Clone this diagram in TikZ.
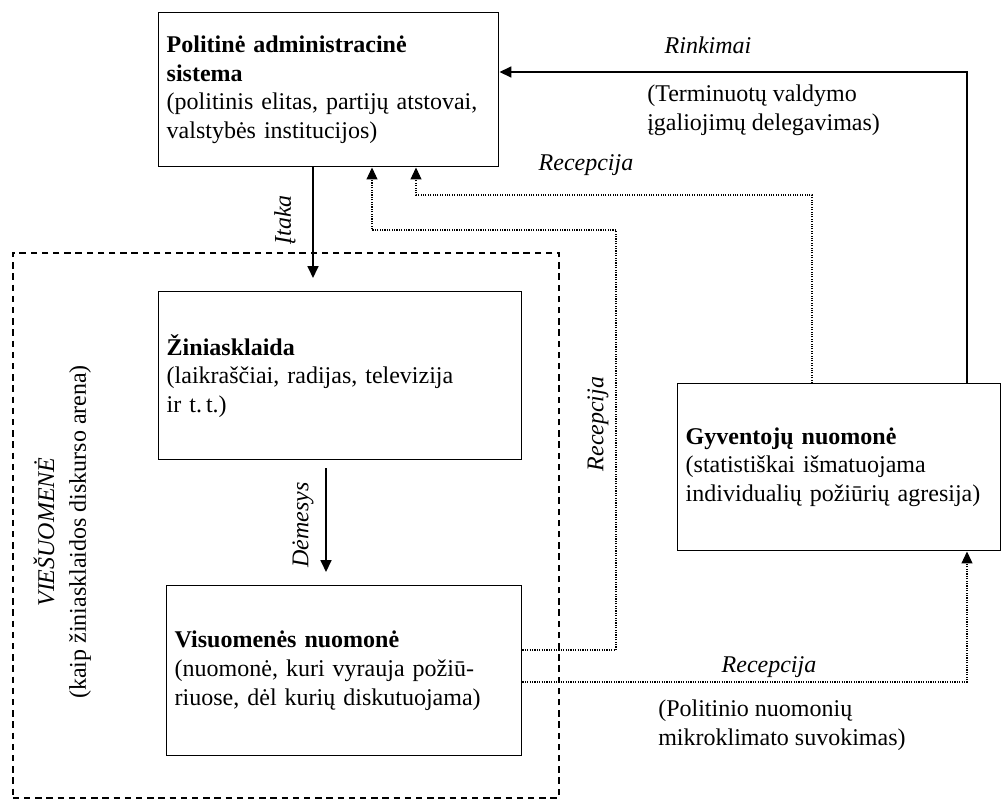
\documentclass[tikz,border=0pt]{standalone}
\usepackage{fontspec}
\setmainfont{Liberation Serif}
\usetikzlibrary{arrows.meta,calc}
\begin{document}
\begin{tikzpicture}[x=0.75pt,y=-0.75pt,
  every node/.style={font=\fontsize{18}{21.4}\selectfont},
  box/.style={draw, line width=1.1pt, inner xsep=6pt, inner ysep=0pt, align=left, anchor=north west},
  arr/.style={line width=1.3pt, -{Triangle[length=9pt,width=8.25pt]}},
  dotarr/.style={line width=0.8pt, densely dotted, -{Triangle[length=9pt,width=8.25pt]}},
  lbl/.style={font=\fontsize{18}{21.4}\selectfont\itshape, inner sep=0pt},
  note/.style={align=left, inner sep=0pt, anchor=west},
  arenabox/.style={draw, line width=1.3pt, dash pattern=on 4.8pt off 3.6pt, anchor=north west, inner sep=0pt}]

\useasboundingbox (0,0) rectangle (1002,800);

% dashed arena
\node[arenabox, minimum width=409.5pt, minimum height=408.75pt] (arena) at (12,252) {};

% boxes
\node[box, text width=243pt, minimum height=115.5pt] (pas) at (158,12)
  {\textbf{Politinė administracinė}\\ \textbf{sistema}\\ (politinis elitas, partijų atstovai,\\ valstybės institucijos)};
\node[box, text width=260.25pt, minimum height=126pt] (zin) at (158,291)
  {\textbf{Žiniasklaida}\\ (laikraščiai, radijas, televizija\\ ir t.\,t.)};
\node[box, text width=254.25pt, minimum height=127.5pt] (vis) at (166,585)
  {\textbf{Visuomenės nuomonė}\\ (nuomonė, kuri vyrauja požiū-\\ riuose, dėl kurių diskutuojama)};
\node[box, text width=230.25pt, minimum height=125.25pt] (gyv) at (677,383)
  {\textbf{Gyventojų nuomonė}\\ (statistiškai išmatuojama\\ individualių požiūrių agresija)};

% coordinates
\coordinate (itk) at (313,278);
\coordinate (dem) at (326,572);
\coordinate (rk) at (967,72);
\coordinate (r1a) at (616,650);
\coordinate (r1b) at (372,230);
\coordinate (r2) at (967,682);
\coordinate (r3a) at (812,195);
\coordinate (r3b) at (416,195);

% connectors
\draw[arr] (pas.south -| itk) -- (itk);
\draw[arr] ($(zin.south -| dem)+(0,8)$) -- (dem);
\draw[arr] (gyv.north -| rk) -- (rk) -- (pas.east |- rk);
\draw[dotarr] (vis.east |- r1a) -- (r1a) -- (r1a |- r1b) -- (r1b) -- (pas.south -| r1b);
\draw[dotarr] (vis.east |- r2) -- (r2) -- (gyv.south -| r2);
\draw[dotarr] (gyv.north -| r3a) -- (r3a) -- (r3b) -- (pas.south -| r3b);

% labels
\node[lbl, rotate=90] (litaka) at (285,220) {Įtaka};
\node[lbl, rotate=90] (ldem) at (303,525) {Dėmesys};
\node[lbl] (lrink) at (708,45) {Rinkimai};
\node[note] (nterm) at (647,110) {(Terminuotų valdymo\\ įgaliojimų delegavimas)};
\node[lbl] (lrec1) at (586,165) {Recepcija};
\node[lbl, rotate=90] (lrec2) at (598,424) {Recepcija};
\node[lbl] (lrec3) at (769,667) {Recepcija};
\node[note] (npol) at (658,725) {(Politinio nuomonių\\ mikroklimato suvokimas)};
\node[lbl, rotate=90] (lvie) at (44,532) {VIEŠUOMENĖ};
\node[rotate=90, inner sep=0pt] (larena) at (80,532) {(kaip žiniasklaidos diskurso arena)};
\end{tikzpicture}
\end{document}
